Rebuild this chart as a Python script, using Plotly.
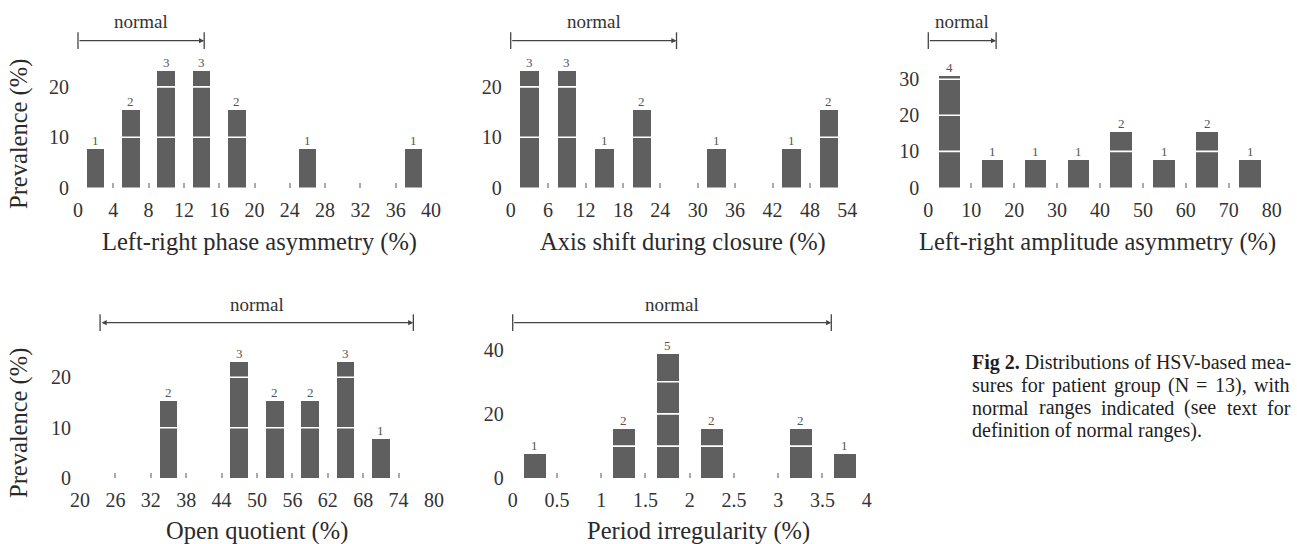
import plotly.graph_objects as go
import numpy as np

# ---------------- data ----------------
N_PATIENTS = 13

phase_counts = [1, 2, 3, 3, 2, 0, 1, 0, 0, 1]          # bins of 4 from 0
axis_counts = [3, 3, 1, 2, 0, 1, 0, 1, 2]              # bins of 6 from 0
amp_counts = [4, 1, 1, 1, 2, 1, 2, 1]                  # bins of 10 from 0
oq_counts = [0, 0, 2, 0, 3, 2, 2, 3, 1, 0]             # bins of 6 from 20
period_counts = [1, 0, 2, 5, 2, 0, 2, 1]               # bins of 0.5 from 0

phase_bins = (0, 4)
axis_bins = (0, 6)
amp_bins = (0, 10)
oq_bins = (20, 6)
period_bins = (0, 0.5)

phase_normal = (0, 14.3)
axis_normal = (0, 26.6)
amp_normal = (0, 15.8)
oq_normal = (23.4, 76.5)
period_normal = (0, 3.6)

phase_yticks = [0, 10, 20]
axis_yticks = [0, 10, 20]
amp_yticks = [0, 10, 20, 30]
oq_yticks = [0, 10, 20]
period_yticks = [0, 20, 40]

titles = ["Left-right phase asymmetry (%)", "Axis shift during closure (%)",
          "Left-right amplitude asymmetry (%)", "Open quotient (%)",
          "Period irregularity (%)"]
y_title = "Prevalence (%)"
normal_label = "normal"
caption_lines = [
    "<b>Fig 2.</b> Distributions of HSV-based mea-",
    "sures for patient group (N = 13), with",
    "normal ranges indicated (see text for",
    "definition of normal ranges).",
]
caption_justified = [False, True, True, False]

# ---------------- layout / style ----------------
W, H = 1297, 544
FONT = "Liberation Serif, Times New Roman, serif"
BAR_COLOR = "#5f5f5f"
TEXT_COLOR = "#333333"
ARROW_COLOR = "#444444"

rows = {
    0: dict(top=6.0, base=187.5, arrow=40.7, text=21.5, title=242.0, ytitle=134.0),
    1: dict(top=290.0, base=478.3, arrow=322.7, text=304.0, title=531.0, ytitle=423.0),
}

panels = [
    dict(counts=phase_counts, bins=phase_bins, normal=phase_normal, two=False,
         yticks=phase_yticks, xpx=(78.0, 431.0), row=0, scale=5.03, ylab=True, tshift=5),
    dict(counts=axis_counts, bins=axis_bins, normal=axis_normal, two=False,
         yticks=axis_yticks, xpx=(510.7, 847.3), row=0, scale=5.03, ylab=False, tshift=4),
    dict(counts=amp_counts, bins=amp_bins, normal=amp_normal, two=False,
         yticks=amp_yticks, xpx=(928.3, 1271.7), row=0, scale=3.61, ylab=False, tshift=-3),
    dict(counts=oq_counts, bins=oq_bins, normal=oq_normal, two=True,
         yticks=oq_yticks, xpx=(80.0, 434.0), row=1, scale=5.05, ylab=True, tshift=0),
    dict(counts=period_counts, bins=period_bins, normal=period_normal, two=False,
         yticks=period_yticks, xpx=(512.7, 866.7), row=1, scale=3.22, ylab=False, tshift=9),
]

fig = go.Figure()
shapes, annotations = [], []
layout_axes = {}

for i, p in enumerate(panels, start=1):
    xa = "x" if i == 1 else f"x{i}"
    ya = "y" if i == 1 else f"y{i}"
    r = rows[p["row"]]
    start, bw = p["bins"]
    counts = np.array(p["counts"])
    nb = len(counts)
    edges = start + bw * np.arange(nb + 1)
    centers = start + bw * (np.arange(nb) + 0.5)
    pct = counts / N_PATIENTS * 100
    ytop = (r["base"] - r["top"]) / p["scale"]
    xr = [start, start + bw * nb]

    mask = counts > 0
    fig.add_trace(go.Bar(x=centers[mask], y=pct[mask], width=bw * 0.5,
                         marker=dict(color=BAR_COLOR, line=dict(width=0)),
                         xaxis=xa, yaxis=ya, hoverinfo="skip"))

    # white separators every 10 %
    for k in np.arange(10, pct.max(), 10):
        shapes.append(dict(type="line", xref=xa, yref=ya, x0=xr[0], x1=xr[1], y0=k, y1=k,
                           line=dict(color="white", width=1.6), layer="above"))

    # count labels
    for c, n in zip(centers[mask], counts[mask]):
        annotations.append(dict(xref=xa, yref=ya, x=c, y=n / N_PATIENTS * 100, text=str(n),
                                showarrow=False, yanchor="bottom", yshift=-1,
                                font=dict(family=FONT, size=13, color="#555555")))

    # normal range arrow
    lo, hi = p["normal"]
    y_arrow = (r["base"] - r["arrow"]) / p["scale"]
    y_text = (r["base"] - r["text"]) / p["scale"]
    annotations.append(dict(xref=xa, yref=ya, x=hi, y=y_arrow, axref=xa, ayref=ya,
                            ax=lo, ay=y_arrow, text="", showarrow=True, arrowhead=2,
                            arrowsize=0.8, arrowwidth=1.3, arrowcolor=ARROW_COLOR,
                            arrowside="end+start" if p["two"] else "end",
                            standoff=0, startstandoff=0))
    fig.add_trace(go.Scatter(x=[lo, hi], y=[y_arrow, y_arrow], mode="markers",
                             marker=dict(symbol="line-ns", size=12,
                                         line=dict(color=ARROW_COLOR, width=1.3)),
                             cliponaxis=False, xaxis=xa, yaxis=ya, hoverinfo="skip"))
    annotations.append(dict(xref=xa, yref=ya, x=(lo + hi) / 2, y=y_text, text=normal_label,
                            showarrow=False, yanchor="middle",
                            font=dict(family=FONT, size=19, color=TEXT_COLOR)))

    # x title
    annotations.append(dict(xref=f"{xa} domain", yref="paper", x=0.5, y=1 - r["title"] / H,
                            xshift=p["tshift"], text=titles[i - 1], showarrow=False,
                            yanchor="middle",
                            font=dict(family=FONT, size=24.5, color="#2a2a2a")))
    if p["ylab"]:
        annotations.append(dict(xref="paper", yref="paper", x=19 / W, y=1 - r["ytitle"] / H,
                                text=y_title, textangle=-90, showarrow=False,
                                xanchor="center", yanchor="middle",
                                font=dict(family=FONT, size=24.5, color="#2a2a2a")))

    key = "" if i == 1 else str(i)
    layout_axes[f"xaxis{key}"] = dict(
        domain=[p["xpx"][0] / W, p["xpx"][1] / W], range=xr, anchor=ya,
        tickmode="array", tickvals=list(edges), ticks="inside", ticklen=5,
        tickwidth=1.5, tickcolor="#aaaaaa", showline=False, showgrid=False,
        zeroline=False, ticklabelstandoff=8, automargin=False,
        tickfont=dict(family=FONT, size=20, color=TEXT_COLOR), fixedrange=True)
    layout_axes[f"yaxis{key}"] = dict(
        domain=[1 - r["base"] / H, 1 - r["top"] / H], range=[0, ytop], anchor=xa,
        tickmode="array", tickvals=p["yticks"], ticks="", showline=False,
        showgrid=False, zeroline=False, ticklabelstandoff=8, automargin=False,
        tickfont=dict(family=FONT, size=20, color=TEXT_COLOR), fixedrange=True)

# ---------------- caption (justified lines laid out word by word) ----------------
# Times / Liberation Serif advance widths (1/1000 em)
CHAR_W = dict(zip("abcdefghijklmnopqrstuvwxyz",
                  [444, 500, 444, 500, 444, 333, 500, 500, 278, 278, 500, 278, 778,
                   500, 500, 500, 500, 333, 389, 278, 500, 500, 722, 500, 500, 444]))
CHAR_W.update({"N": 722, "(": 333, ")": 333, ",": 250, "=": 564, "1": 500, "3": 500,
               ".": 250, "-": 333, " ": 250})
CAP_SIZE = 20
CAP_LEFT, CAP_RIGHT = 971.0, 1289.0
caption_y = [362.7, 385.2, 407.7, 430.2]


def word_px(word):
    return sum(CHAR_W.get(ch, 500) for ch in word) / 1000 * CAP_SIZE


for line, yy, just in zip(caption_lines, caption_y, caption_justified):
    common = dict(xref="paper", yref="paper", y=1 - yy / H, xanchor="left",
                  yanchor="middle", showarrow=False, borderpad=0,
                  font=dict(family=FONT, size=CAP_SIZE, color="#1e1e1e"))
    if not just:
        annotations.append(dict(x=CAP_LEFT / W, text=line, **common))
        continue
    words = line.split(" ")
    widths = [word_px(w) for w in words]
    gap = (CAP_RIGHT - CAP_LEFT - sum(widths)) / (len(words) - 1)
    xpos = CAP_LEFT
    for w, wd in zip(words, widths):
        annotations.append(dict(x=xpos / W, text=w, **common))
        xpos += wd + gap

fig.update_layout(width=W, height=H,
                  margin=dict(l=0, r=0, t=0, b=0, pad=0, autoexpand=False),
                  paper_bgcolor="white", plot_bgcolor="white", showlegend=False,
                  bargap=0, shapes=shapes, annotations=annotations, **layout_axes)

fig.write_html("out.html")
